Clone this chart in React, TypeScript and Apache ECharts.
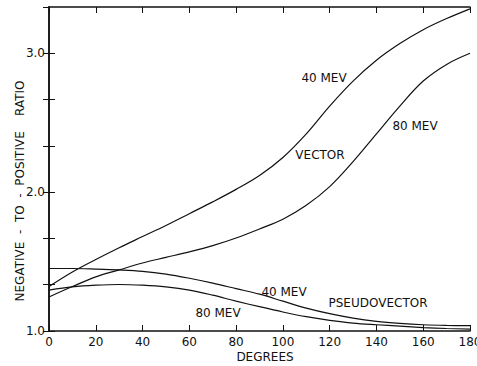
import React, { useEffect, useRef } from "react";
import * as echarts from "echarts";

const degrees = [0, 10, 20, 30, 40, 50, 60, 70, 80, 90, 100, 110, 120, 130, 140, 150, 160, 170, 180];
const vector40 = [1.32, 1.425, 1.515, 1.6, 1.68, 1.76, 1.845, 1.93, 2.02, 2.12, 2.25, 2.42, 2.62, 2.8, 2.95, 3.07, 3.17, 3.25, 3.32];
const vector80 = [1.245, 1.32, 1.39, 1.44, 1.49, 1.53, 1.57, 1.615, 1.67, 1.735, 1.805, 1.905, 2.04, 2.22, 2.42, 2.62, 2.8, 2.92, 3.0];
const pseudo40 = [1.45, 1.45, 1.446, 1.44, 1.43, 1.41, 1.38, 1.345, 1.305, 1.265, 1.215, 1.165, 1.125, 1.093, 1.07, 1.055, 1.045, 1.04, 1.038];
const pseudo80 = [1.295, 1.318, 1.33, 1.335, 1.33, 1.318, 1.295, 1.258, 1.215, 1.175, 1.137, 1.103, 1.077, 1.057, 1.045, 1.035, 1.025, 1.018, 1.014];
const yTickLabels = ["1.0", "2.0", "3.0"];
const annotations = [
  { text: "40 MEV", x: 324, y: 78 },
  { text: "VECTOR", x: 320, y: 155 },
  { text: "80 MEV", x: 415, y: 126 },
  { text: "40 MEV", x: 284, y: 292 },
  { text: "PSEUDOVECTOR", x: 378, y: 303 },
  { text: "80 MEV", x: 218, y: 313 },
];

const FONT = "DejaVu Sans";

export default function App() {
  const ref = useRef<HTMLDivElement>(null);
  useEffect(() => {
    if (!ref.current) return;
    const chart = echarts.init(ref.current, null, { renderer: "svg" });
    const mk = (vals: number[]) => degrees.map((d, i) => [d, vals[i]]);
    const lineSeries = (name: string, vals: number[]) => ({
      name,
      type: "line",
      data: mk(vals),
      smooth: 0.35,
      showSymbol: false,
      symbol: "none",
      lineStyle: { color: "#111", width: 1.2 },
      xAxisIndex: 0,
      yAxisIndex: 0,
    });
    const yFmt = (v: number) => {
      const r = Math.round(v);
      if (Math.abs(v - r) < 1e-6) {
        const s = r.toFixed(1);
        return yTickLabels.includes(s) ? s : "";
      }
      return "";
    };
    chart.setOption({
      animation: false,
      backgroundColor: "#fff",
      grid: { left: 49, right: 7, top: 7, bottom: 35, outerBoundsMode: "none", containLabel: false },
      xAxis: [
        {
          type: "value",
          min: 0,
          max: 180,
          interval: 20,
          position: "bottom",
          axisLine: { lineStyle: { color: "#111", width: 1.5 } },
          axisTick: { inside: true, length: 6, lineStyle: { color: "#111" } },
          axisLabel: { color: "#111", fontFamily: FONT, fontSize: 12, margin: 5 },
          splitLine: { show: false },
        },
        {
          type: "value",
          min: 0,
          max: 180,
          interval: 20,
          position: "top",
          axisLine: { lineStyle: { color: "#111", width: 1.5 } },
          axisTick: { inside: true, length: 6, lineStyle: { color: "#111" } },
          axisLabel: { show: false },
          splitLine: { show: false },
        },
      ],
      yAxis: [
        {
          type: "value",
          min: 1,
          max: 10 / 3,
          interval: 1 / 3,
          position: "left",
          axisLine: { show: true, lineStyle: { color: "#111", width: 1.5 } },
          axisTick: { show: true, inside: true, length: 6, lineStyle: { color: "#111" } },
          axisLabel: { color: "#111", fontFamily: FONT, fontSize: 12, margin: 4, formatter: yFmt, showMaxLabel: false },
          splitLine: { show: false },
        },
        {
          type: "value",
          min: 1,
          max: 10 / 3,
          interval: 1 / 3,
          position: "right",
          axisLine: { show: true, lineStyle: { color: "#111", width: 1.5 } },
          axisTick: { show: true, inside: true, length: 6, lineStyle: { color: "#111" } },
          axisLabel: { show: false },
          splitLine: { show: false },
        },
      ],
      series: [
        lineSeries("Vector 40 MeV", vector40),
        lineSeries("Vector 80 MeV", vector80),
        lineSeries("Pseudovector 40 MeV", pseudo40),
        lineSeries("Pseudovector 80 MeV", pseudo80),
      ],
      graphic: [
        ...annotations.map((a) => ({
          type: "text",
          x: a.x,
          y: a.y,
          style: {
            text: a.text,
            fill: "#111",
            font: `12px "${FONT}"`,
            align: "center",
            verticalAlign: "middle",
          },
        })),
        {
          type: "text",
          x: 265,
          y: 357,
          style: { text: "DEGREES", fill: "#111", font: `12px "${FONT}"`, align: "center", verticalAlign: "middle" },
        },
        {
          type: "text",
          x: 20,
          y: 191,
          rotation: Math.PI / 2,
          style: {
            text: "NEGATIVE  -  TO  -  POSITIVE    RATIO",
            fill: "#111",
            font: `12px "${FONT}"`,
            align: "center",
            verticalAlign: "middle",
          },
        },
      ],
    });
    return () => chart.dispose();
  }, []);
  return (
    <div
      ref={ref}
      style={{ position: "absolute", left: 0, top: 0, width: 477, height: 366 }}
    />
  );
}
